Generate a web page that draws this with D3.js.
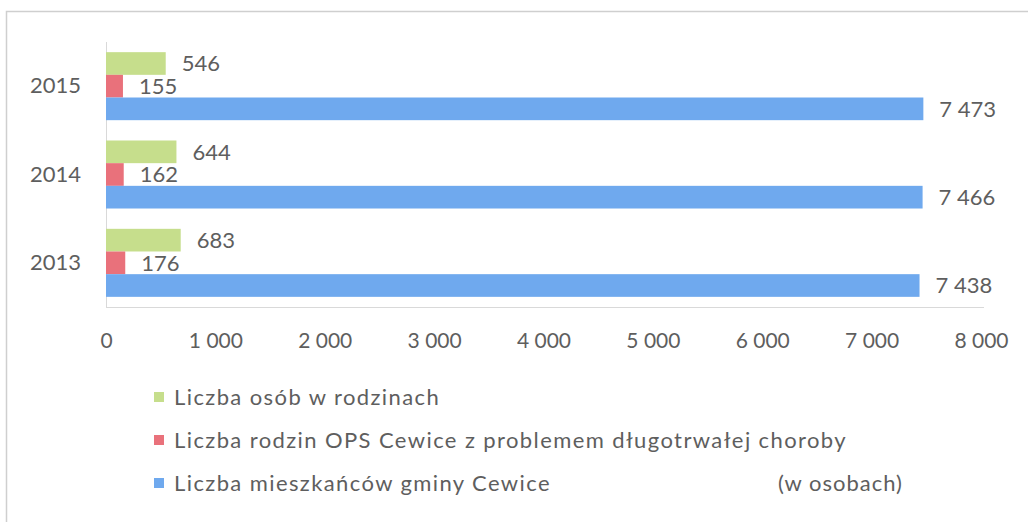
<!DOCTYPE html>
<html>
<head>
<meta charset="utf-8">
<script src="https://cdn.jsdelivr.net/npm/d3@7"></script>
<style>
  html, body { margin: 0; padding: 0; background: #ffffff; }
  svg { display: block; }
  text { font-family: Lato, "Open Sans", sans-serif; fill: #5e5e5e; }
</style>
</head>
<body>
<svg id="chart" width="1028" height="522"></svg>
<script>
// ---- data ----
const years = ["2015", "2014", "2013"];
const seriesNames = [
  "Liczba osób w rodzinach",
  "Liczba rodzin OPS Cewice z problemem długotrwałej choroby",
  "Liczba mieszkańców gminy Cewice"
];
const osobyWRodzinach = [546, 644, 683];
const rodzinyOPS = [155, 162, 176];
const mieszkancy = [7473, 7466, 7438];
const xTicks = [0, 1000, 2000, 3000, 4000, 5000, 6000, 7000, 8000];
const unitNote = "(w osobach)";
const colors = ["#c6de8c", "#e9717b", "#6fa9ee"];

const seriesValues = [osobyWRodzinach, rodzinyOPS, mieszkancy];

const svg = d3.select("#chart");
const W = 1028, H = 522;

// outer frame
svg.append("rect")
  .attr("x", 6.5).attr("y", 11.5)
  .attr("width", W + 10).attr("height", H + 10)
  .attr("fill", "none").attr("stroke", "#cfcfcf").attr("stroke-width", 1.5);

const loc = d3.formatLocale({decimal: ",", thousands: "\u00a0", grouping: [3], currency: ["", ""]});
const fmt = loc.format(",d");

const x = d3.scaleLinear().domain([0, 8000]).range([106, 981]);
const y = d3.scaleBand().domain(years).range([42, 307]).paddingInner(0.23).paddingOuter(0.115);
const ySub = d3.scaleBand().domain(d3.range(3)).range([0, y.bandwidth()]).padding(0);

// axis lines
const plotTop = 42, plotBottom = 307;
svg.append("line")
  .attr("x1", x(0)).attr("x2", 984)
  .attr("y1", plotBottom + 0.5).attr("y2", plotBottom + 0.5)
  .attr("stroke", "#d9d9d9").attr("stroke-width", 1);
svg.append("line")
  .attr("x1", x(0) + 0.5).attr("x2", x(0) + 0.5)
  .attr("y1", plotTop).attr("y2", plotBottom)
  .attr("stroke", "#d9d9d9").attr("stroke-width", 1);

// x axis tick labels via d3 axis
const xAxis = d3.axisBottom(x).tickValues(xTicks).tickFormat(fmt).tickSize(0).tickPadding(0);
const gx = svg.append("g").attr("transform", `translate(0, ${plotBottom + 26})`).call(xAxis);
gx.select(".domain").remove();
gx.selectAll("text")
  .attr("font-size", 21).attr("fill", "#5e5e5e")
  .style("font-family", "Lato, 'Open Sans', sans-serif")
  .attr("dy", "0.71em");

// y axis labels
const yAxis = d3.axisLeft(y).tickSize(0).tickPadding(0);
const gy = svg.append("g").attr("transform", `translate(81, 0)`).call(yAxis);
gy.select(".domain").remove();
gy.selectAll("text")
  .attr("font-size", 22).attr("fill", "#5e5e5e")
  .style("font-family", "Lato, 'Open Sans', sans-serif");

// bars
const rows = [];
years.forEach((yr, i) => {
  seriesValues.forEach((vals, s) => {
    rows.push({year: yr, s: s, v: vals[i]});
  });
});

svg.append("g").selectAll("rect")
  .data(rows).join("rect")
  .attr("x", x(0))
  .attr("y", d => y(d.year) + ySub(d.s))
  .attr("width", d => x(d.v) - x(0))
  .attr("height", ySub.bandwidth())
  .attr("fill", d => colors[d.s]);

svg.append("g").selectAll("text")
  .data(rows).join("text")
  .attr("x", d => x(d.v) + 16)
  .attr("y", d => y(d.year) + ySub(d.s) + ySub.bandwidth() / 2)
  .attr("dy", "0.35em")
  .attr("font-size", 22)
  .text(d => fmt(d.v));

// legend
const legY = d3.scalePoint().domain(d3.range(3)).range([397, 483]);
const leg = svg.append("g").selectAll("g")
  .data(seriesNames).join("g")
  .attr("transform", (d, i) => `translate(154, ${legY(i)})`);
leg.append("rect")
  .attr("x", 0).attr("y", -5).attr("width", 10).attr("height", 10)
  .attr("fill", (d, i) => colors[i]);
leg.append("text")
  .attr("x", 20).attr("y", 0).attr("dy", "0.35em")
  .attr("font-size", 22)
  .attr("letter-spacing", 1.4)
  .text(d => d);

svg.append("text")
  .attr("x", 778).attr("y", legY(2)).attr("dy", "0.35em")
  .attr("font-size", 22)
  .attr("letter-spacing", 1)
  .text(unitNote);
</script>
</body>
</html>
